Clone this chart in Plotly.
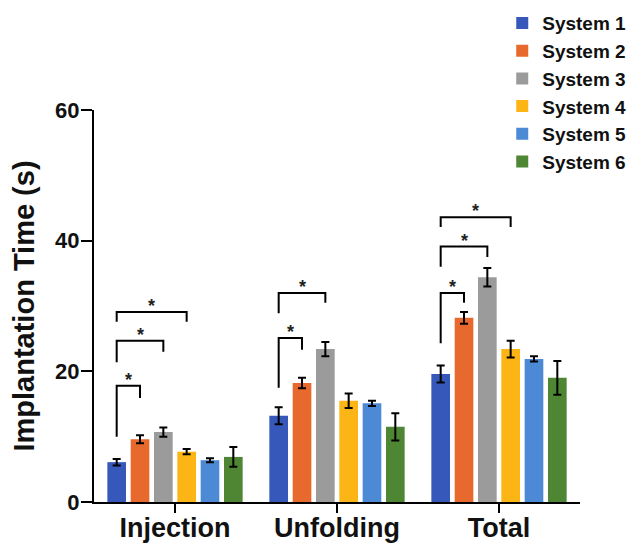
import plotly.graph_objects as go

categories = ["Injection", "Unfolding", "Total"]
series_names = ["System 1", "System 2", "System 3", "System 4", "System 5", "System 6"]
colors = ["#3658BA", "#E8692D", "#9B9B9B", "#FDB515", "#4C8AD6", "#4F8634"]

system1 = [6.1, 13.2, 19.6]
system2 = [9.6, 18.2, 28.2]
system3 = [10.7, 23.4, 34.4]
system4 = [7.7, 15.5, 23.4]
system5 = [6.4, 15.1, 21.9]
system6 = [6.9, 11.5, 19.0]
values = [system1, system2, system3, system4, system5, system6]

err1 = [0.5, 1.3, 1.3]
err2 = [0.6, 0.8, 0.9]
err3 = [0.7, 1.1, 1.4]
err4 = [0.4, 1.1, 1.3]
err5 = [0.3, 0.4, 0.4]
err6 = [1.5, 2.1, 2.6]
errors = [err1, err2, err3, err4, err5, err6]

# significance brackets: group, compared series index (vs System 1), top, left-leg bottom, right-leg bottom
br_group = [0, 0, 0, 1, 1, 2, 2, 2]
br_series = [1, 2, 3, 1, 2, 1, 2, 3]
br_top = [17.8, 24.7, 29.1, 25.1, 32.0, 32.0, 39.1, 43.6]
br_left = [10.0, 21.4, 27.6, 17.5, 28.9, 24.3, 36.0, 42.1]
br_right = [15.9, 23.0, 27.6, 23.3, 30.5, 30.5, 37.5, 42.1]

BARGAP = 0.136
GROUPGAP = 0.2
FONT = "Liberation Sans, Arial, sans-serif"

fig = go.Figure()
xs = list(range(len(categories)))
for name, vals, errs, col in zip(series_names, values, errors, colors):
    fig.add_trace(go.Bar(
        name=name, x=xs, y=vals,
        marker=dict(color=col, line=dict(width=0)),
        error_y=dict(type="data", array=errs, color="black", thickness=2, width=4),
    ))

n = len(series_names)
def bar_center(g, i):
    return g + (-0.5 + (i + 0.5) / n) * (1 - BARGAP)

for g, j, top, lb, rb in zip(br_group, br_series, br_top, br_left, br_right):
    x0 = bar_center(g, 0)
    x1 = bar_center(g, j)
    fig.add_shape(type="path",
                  path=f"M {x0} {lb} L {x0} {top} L {x1} {top} L {x1} {rb}",
                  line=dict(color="black", width=2), xref="x", yref="y")
    fig.add_annotation(x=(x0 + x1) / 2, y=top, text="*", showarrow=False,
                       yanchor="middle", yshift=6,
                       font=dict(size=18, color="#222", family=FONT, weight="bold"))

# the page body adds an 8px offset, so the figure is 8px smaller than the window
fig.update_layout(
    width=627, height=537,
    margin=dict(l=86, r=55, t=102, b=43, autoexpand=False),
    plot_bgcolor="white", paper_bgcolor="white",
    barmode="group", bargap=BARGAP, bargroupgap=GROUPGAP,
    font=dict(family=FONT, color="black"),
    showlegend=True,
    legend=dict(x=0.84, y=1.27, xanchor="left", yanchor="top",
                font=dict(size=19, family=FONT, weight="bold", color="#111"),
                bgcolor="rgba(0,0,0,0)", traceorder="normal", tracegroupgap=0),
)
fig.update_xaxes(range=[-0.5, 2.5], tickvals=xs, ticktext=categories,
                 showline=True, linecolor="black", linewidth=2,
                 ticks="outside", ticklen=9, tickwidth=2, tickcolor="black",
                 ticklabelstandoff=-8,
                 showgrid=False, zeroline=False, automargin=False,
                 tickfont=dict(size=27, family=FONT, weight="bold", color="#111"))
fig.update_yaxes(range=[0, 60], tickvals=[0, 20, 40, 60],
                 showline=True, linecolor="black", linewidth=2,
                 ticks="outside", ticklen=11, tickwidth=2, tickcolor="black",
                 ticklabelstandoff=-3,
                 showgrid=False, zeroline=False, automargin=False,
                 tickfont=dict(size=22, family=FONT, weight="bold", color="#111"),
                 title=dict(text="Implantation Time (s)", standoff=16,
                            font=dict(size=29, family=FONT, weight="bold", color="#111")))

fig.write_html("out.html")
